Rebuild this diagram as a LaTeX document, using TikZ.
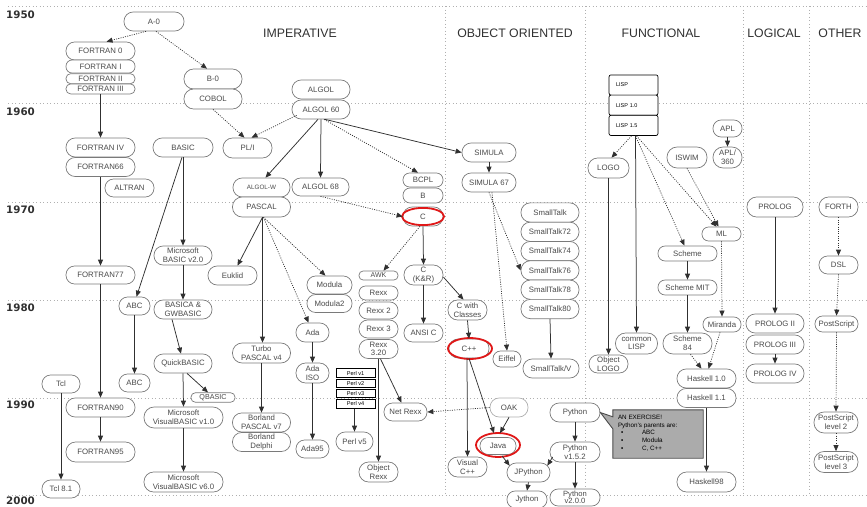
\documentclass[tikz,border=0pt]{standalone}
\usepackage{fontspec}
\setmainfont{Liberation Sans}
\newfontfamily\yearfont{DejaVu Sans}
\usetikzlibrary{arrows.meta}
\definecolor{nodeline}{HTML}{7A7A7A}
\definecolor{nodetext}{HTML}{4A4A4A}
\definecolor{edgecol}{HTML}{303030}
\definecolor{gridcol}{HTML}{B0B0B0}
\definecolor{ringred}{HTML}{E01818}
\definecolor{notefill}{HTML}{ABABAB}
\definecolor{headcol}{HTML}{303030}
\newcommand{\lnode}[7][]{\pgfmathsetmacro{\rr}{#6/2-0.4}\node[box,minimum width=#5,minimum height=#6,rounded corners=\rr pt,#1] (#2) at (#3,#4) {#7};}
\begin{document}
\begin{tikzpicture}[x=1pt,y=-1pt,
  box/.style={draw=nodeline,line width=0.7pt,fill=white,inner sep=0pt,align=center,text=nodetext,font=\fontsize{7.8}{8.6}\selectfont},
  lispbox/.style={draw=black,line width=0.7pt,fill=white,rounded corners=2pt,minimum width=49,minimum height=20.2,inner sep=0pt,text width=35,align=left,font=\fontsize{5.5}{6}\selectfont},
  perlbox/.style={draw=black,line width=0.8pt,fill=white,minimum width=39,minimum height=8.5,inner sep=0pt,font=\fontsize{5.6}{6}\selectfont},
  sol/.style={draw=edgecol,line width=0.75pt},
  dot/.style={draw=edgecol,line width=0.7pt,dash pattern=on 1pt off 1.3pt},
  arr/.style={-{Triangle[length=6pt,width=5pt]}},
  gridline/.style={draw=gridcol,line width=0.8pt,dash pattern=on 1pt off 2.5pt},
  head/.style={text=headcol,font=\fontsize{12.3}{14}\selectfont,inner sep=0pt},
  year/.style={text=headcol,font=\yearfont\bfseries\fontsize{10.3}{12}\selectfont,inner sep=0pt,anchor=west},
  ring/.style={draw=ringred,line width=1.8pt},
  notebox/.style={fill=notefill,draw=black!70,line width=0.9pt}]
\useasboundingbox (0,0) rectangle (867,506);
% grid
\foreach \yy in {6,103,202,300,398,495} \draw[gridline] (8,\yy) -- (867,\yy);
\foreach \xx in {445,585,743,809} \draw[gridline] (\xx,6) -- (\xx,495);
% years
\node[year] (y1950) at (6,15) {1950};
\node[year] (y1960) at (6,112) {1960};
\node[year] (y1970) at (6,210) {1970};
\node[year] (y1980) at (6,308) {1980};
\node[year] (y1990) at (6,405) {1990};
\node[year] (y2000) at (6,501) {2000};
% headings
\node[head] (hImp) at (300,33) {IMPERATIVE};
\node[head] (hOO) at (515,33) {OBJECT ORIENTED};
\node[head] (hFun) at (661,33) {FUNCTIONAL};
\node[head] (hLog) at (774,33) {LOGICAL};
\node[head] (hOth) at (840,33) {OTHER};
% imperative
\lnode{a0}{154}{21.5}{60}{19}{A-0}
\lnode{f0}{100.5}{51}{69}{18}{FORTRAN 0}
\lnode{f1}{100.5}{66.5}{69}{13}{FORTRAN I}
\lnode{f2}{100.5}{78.7}{69}{10}{FORTRAN II}
\lnode{f3}{100.5}{88.9}{69}{10}{FORTRAN III}
\lnode{b0}{213}{79}{58}{20}{B-0}
\lnode{cobol}{213}{99}{58}{20}{COBOL}
\lnode{f4}{100.5}{147.5}{69}{19}{FORTRAN IV}
\lnode{f66}{100.5}{167}{69}{19}{FORTRAN66}
\lnode{basic}{183}{147.5}{60}{19}{BASIC}
\lnode{pli}{247.5}{148}{49}{20}{PL/I}
\lnode{algol}{321}{89.5}{58}{19}{ALGOL}
\lnode{algol60}{321}{109.5}{58}{19}{ALGOL 60}
\lnode{altran}{129.5}{188}{49}{18}{ALTRAN}
\lnode[font=\fontsize{6.3}{7}\selectfont]{algolw}{261.5}{187.5}{57}{19}{ALGOL-W}
\lnode{pascal}{261.5}{207}{58}{20}{PASCAL}
\lnode{algol68}{320.5}{187}{57}{18}{ALGOL 68}
\lnode{msbasic}{183}{255.5}{58}{19}{Microsoft\\BASIC v2.0}
\lnode{f77}{100.5}{275}{69}{18}{FORTRAN77}
\lnode{euklid}{232.5}{275.5}{49}{19}{Euklid}
\lnode{abc1}{134.5}{306}{31}{18}{ABC}
\lnode{basica}{183}{309.5}{58}{19}{BASICA \&\\GWBASIC}
\lnode{modula}{329.5}{285}{45}{18}{Modula}
\lnode{modula2}{329.5}{303.5}{45}{18}{Modula2}
\lnode{ada}{312.5}{332.5}{33}{19}{Ada}
\lnode{quickbasic}{183}{363.5}{58}{19}{QuickBASIC}
\lnode{turbo}{261.5}{353}{58}{20}{Turbo\\PASCAL v4}
\lnode{tcl}{61}{384}{38}{18}{Tcl}
\lnode{abc2}{134.5}{383}{31}{18}{ABC}
\lnode[font=\fontsize{7.2}{8}\selectfont]{qbasic}{213}{397.5}{44}{9.5}{QBASIC}
\lnode{f90}{100.5}{407.5}{69}{19}{FORTRAN90}
\lnode{vb1}{183.5}{417.5}{79}{21}{Microsoft\\VisualBASIC v1.0}
\lnode{borland7}{261.5}{422.5}{58}{19}{Borland\\PASCAL v7}
\lnode{delphi}{261.5}{442}{58}{19}{Borland\\Delphi}
\lnode{f95}{100.5}{452}{69}{20}{FORTRAN95}
\lnode{vb6}{183.5}{482}{79}{20}{Microsoft\\VisualBASIC v6.0}
\lnode{tcl81}{61}{489}{38}{18}{Tcl 8.1}
\lnode{adaiso}{312.5}{373}{33}{20}{Ada\\ISO}
\lnode{ada95}{312.5}{449}{33}{18}{Ada95}
\node[perlbox] (perl1) at (355.5,373) {Perl v1};
\node[perlbox] (perl2) at (355.5,383.3) {Perl v2};
\node[perlbox] (perl3) at (355.5,393.6) {Perl v3};
\node[perlbox] (perl4) at (355.5,403.9) {Perl v4};
\lnode{perl5}{354.5}{441.5}{37}{19}{Perl v5}
\lnode{bcpl}{423}{180}{40}{14}{BCPL}
\lnode{bnode}{423}{195.5}{40}{15}{B}
\lnode{cnode}{423}{216.5}{40}{19}{C}
\lnode[font=\fontsize{7}{8}\selectfont]{awk}{378.5}{275.5}{39}{9}{AWK}
\lnode{rexx}{378.5}{293}{39}{14}{Rexx}
\lnode{rexx2}{378.5}{310.5}{39}{17}{Rexx 2}
\lnode{rexx3}{378.5}{329}{39}{18}{Rexx 3}
\lnode{rexx320}{378.5}{349}{39}{19}{Rexx\\3.20}
\lnode{ckr}{423.5}{275}{39}{20}{C\\(K\&R)}
\lnode{ansic}{423.5}{333}{39}{18}{ANSI C}
\lnode{netrexx}{405.5}{412}{43}{18}{Net Rexx}
\lnode{objrexx}{378.5}{472}{39}{20}{Object\\Rexx}
% object oriented
\lnode{simula}{489}{152.5}{54}{19}{SIMULA}
\lnode{simula67}{489}{182.5}{54}{19}{SIMULA 67}
\lnode{cwc}{467.5}{310}{39}{20}{C with\\Classes}
\lnode{st}{550}{212.5}{58}{19.3}{SmallTalk}
\lnode{st72}{550}{231.8}{58}{19.3}{SmallTalk72}
\lnode{st74}{550}{251.1}{58}{19.3}{SmallTalk74}
\lnode{st76}{550}{270.4}{58}{19.3}{SmallTalk76}
\lnode{st78}{550}{289.7}{58}{19.3}{SmallTalk78}
\lnode{st80}{550}{309}{58}{19.3}{SmallTalk80}
\lnode{cpp}{469}{348.5}{40}{19}{C++}
\lnode{eiffel}{507}{359}{28}{16}{Eiffel}
\lnode{stv}{551}{368.5}{56}{19}{SmallTalk/V}
\lnode[draw=nodeline!60]{oak}{509}{407.5}{38}{19}{OAK}
\lnode{python}{575}{412.5}{50}{19}{Python}
\lnode{java}{498}{446}{36}{17}{Java}
\lnode{py152}{575}{452}{50}{20}{Python\\v1.5.2}
\lnode{vcpp}{467.5}{467}{39}{20}{Visual\\C++}
\lnode{jpython}{528.5}{472.5}{43}{19}{JPython}
\lnode{jython}{527}{499.5}{40}{17}{Jython}
\lnode[font=\fontsize{7.6}{7.4}\selectfont]{py200}{575}{497.5}{50}{17}{Python\\v2.0.0}
% functional
\node[lispbox] (lisp) at (633.5,85) {LISP};
\node[lispbox] (lisp10) at (633.5,105.2) {LISP 1.0};
\node[lispbox] (lisp15) at (633.5,125.4) {LISP 1.5};
\lnode{apl}{727.5}{128.5}{29}{17}{APL}
\lnode{apl360}{727.5}{157.5}{29}{21}{APL/\\360}
\lnode{iswim}{687}{157.5}{40}{21}{ISWIM}
\lnode{logo}{608.5}{168}{41}{20}{LOGO}
\lnode{ml}{721.5}{234}{39}{14}{ML}
\lnode{scheme}{687.5}{253.5}{59}{15}{Scheme}
\lnode{schememit}{687.5}{287.5}{59}{15}{Scheme MIT}
\lnode{miranda}{722}{324.5}{38}{15}{Miranda}
\lnode{commonlisp}{636.5}{343.5}{42}{21}{common\\LISP}
\lnode{scheme84}{687.5}{343.5}{49}{21}{Scheme\\84}
\lnode{objlogo}{608.5}{364}{39}{18}{Object\\LOGO}
\lnode{hask10}{706.5}{378.5}{59}{19}{Haskell 1.0}
\lnode{hask11}{706.5}{398}{59}{19}{Haskell 1.1}
\lnode{hask98}{706.5}{482}{59}{20}{Haskell98}
% logical
\lnode{prolog}{775}{207}{56}{20}{PROLOG}
\lnode{prolog2}{775}{323.5}{58}{19}{PROLOG II}
\lnode{prolog3}{775}{344.5}{58}{19}{PROLOG III}
\lnode{prolog4}{775}{373.5}{58}{19}{PROLOG IV}
% other
\lnode{forth}{838.5}{207}{39}{20}{FORTH}
\lnode{dsl}{838.5}{265}{39}{18}{DSL}
\lnode{postscript}{836.5}{324}{43}{16}{PostScript}
\lnode{ps2}{836}{422.5}{44}{21}{PostScript\\level 2}
\lnode{ps3}{836}{462}{44}{21}{PostScript\\level 3}
% red rings
\draw[ring] (cnode.center) ellipse [x radius=21, y radius=8.6];
\draw[ring] ([xshift=1]cpp.center) ellipse [x radius=22, y radius=10.5];
\draw[ring] ([yshift=1]java.center) ellipse [x radius=22, y radius=12];
% callout
\node[minimum width=90,minimum height=48,inner sep=0pt] (note) at (658,434) {};
\path[notebox] (note.north west) -- (note.north east) -- (note.south east) -- (note.south west) -- ([yshift=-19]note.north west) -- (python.east) -- ([yshift=-7]note.north west) -- cycle;
\node[font=\fontsize{6.3}{7.7}\selectfont,align=left,anchor=north west,inner sep=0pt] (notetxt) at ([xshift=5,yshift=-5]note.north west) {AN EXERCISE!\\Python's parents are:\\\hspace*{3pt}\makebox[21pt][l]{▪}ABC\\\hspace*{3pt}\makebox[21pt][l]{▪}Modula\\\hspace*{3pt}\makebox[21pt][l]{▪}C, C++};
% edges
\draw[dot,arr] ([xshift=-8]a0.south) -- ([xshift=6]f0.north);
\draw[dot,arr] ([xshift=2]a0.south) -- ([xshift=-6]b0.north);
\draw[sol,arr] (f3.south) -- (f4.north);
\draw[dot,arr] (cobol.south) -- ([xshift=-3]pli.north);
\draw[dot,arr] ([xshift=5,yshift=4]algol60.south west) -- ([xshift=4]pli.north);
\draw[sol,arr] ([xshift=-3]algol60.south) -- ([xshift=4]algolw.north);
\draw[sol,arr] (algol60.south) -- (algol68.north);
\draw[dot,arr] ([xshift=3]algol60.south) -- ([xshift=-5]bcpl.north);
\draw[sol,arr] ([xshift=4]algol60.south) -- (simula.west);
\draw[sol,arr] (simula.south) -- (simula67.north);
\draw[sol,arr] (f66.south) -- (f77.north);
\draw[sol,arr] (basic.south) -- (msbasic.north);
\draw[sol,arr] ([xshift=-1]basic.south) -- ([xshift=2]abc1.north);
\draw[sol,arr] ([xshift=1]pascal.south) -- ([xshift=5]euklid.north);
\draw[sol,arr] ([xshift=1]pascal.south) -- ([xshift=1]turbo.north);
\draw[dot,arr] ([xshift=2]pascal.south) -- ([xshift=-4]modula.north);
\draw[dot,arr] ([xshift=2]pascal.south) -- ([xshift=-4]ada.north);
\draw[dot,arr] (algol68.south) -- (cnode.west);
\draw[dot,arr] ([xshift=-3]cnode.south) -- ([xshift=5]awk.north);
\draw[sol,arr] (cnode.south) -- (ckr.north);
\draw[sol,arr] (ckr.south) -- (ansic.north);
\draw[sol,arr] ([yshift=-2]ckr.east) -- ([xshift=-4]cwc.north);
\draw[sol,arr] (cwc.south) -- (cpp.north);
\draw[dot,arr] (simula67.south) -- (st76.west);
\draw[dot,arr] ([xshift=3]simula67.south) -- (eiffel.north);
\draw[sol,arr] (st80.south) -- (stv.north);
\draw[sol,arr] (msbasic.south) -- (basica.north);
\draw[sol,arr] ([xshift=-11]basica.south) -- ([xshift=-2]quickbasic.north);
\draw[sol,arr] ([xshift=4]quickbasic.south) -- ([xshift=-5]qbasic.north);
\draw[sol,arr] (quickbasic.south) -- (vb1.north);
\draw[sol,arr] (vb1.south) -- (vb6.north);
\draw[sol,arr] (f77.south) -- (f90.north);
\draw[sol,arr] (f90.south) -- (f95.north);
\draw[sol,arr] (abc1.south) -- (abc2.north);
\draw[sol,arr] (tcl.south) -- (tcl81.north);
\draw[sol,arr] (turbo.south) -- (borland7.north);
\draw[sol,arr] (ada.south) -- (adaiso.north);
\draw[sol,arr] (adaiso.south) -- (ada95.north);
\draw[sol,arr] ([xshift=-1]perl4.south) -- (perl5.north);
\draw[sol,arr] ([xshift=2]rexx320.south) -- ([xshift=-4]netrexx.north);
\draw[sol,arr] (rexx320.south) -- (objrexx.north);
\draw[dot,arr] (oak.west) -- (netrexx.east);
\draw[sol,arr] (cpp.south) -- ([xshift=-4,yshift=4]java.north);
\draw[sol,arr] (oak.south) -- ([xshift=2,yshift=4]java.north);
\draw[sol,arr] ([xshift=-2]cpp.south) -- (vcpp.north);
\draw[sol,arr] ([xshift=4,yshift=-1]java.south) -- ([xshift=3,yshift=-3]jpython.north west);
\draw[sol,arr] ([xshift=3,yshift=-5]py152.west) -- ([xshift=-3,yshift=-3]jpython.north east);
\draw[sol,arr] (jpython.south) -- (jython.north);
\draw[sol,arr] (python.south) -- (py152.north);
\draw[sol,arr] (py152.south) -- (py200.north);
\draw[dot,arr] ([xshift=-2]lisp15.south) -- ([xshift=3]logo.north);
\draw[sol,arr] ([xshift=2]lisp15.south) -- (commonlisp.north);
\draw[dot,arr] ([xshift=2]lisp15.south) -- ([xshift=-3]scheme.north);
\draw[dot,arr] ([xshift=3]lisp15.south) -- ([xshift=-5]ml.north);
\draw[dot,arr] (iswim.south) -- ([xshift=-3]ml.north);
\draw[sol,arr] (apl.south) -- (apl360.north);
\draw[sol,arr] (logo.south) -- (objlogo.north);
\draw[dot,arr] (ml.south) -- (miranda.north);
\draw[sol,arr] (scheme.south) -- (schememit.north);
\draw[sol,arr] (schememit.south) -- (scheme84.north);
\draw[dot,arr] ([xshift=3]scheme84.south) -- ([xshift=-5]hask10.north);
\draw[dot,arr] ([xshift=-2]miranda.south) -- ([xshift=2]hask10.north);
\draw[sol,arr] (hask11.south) -- (hask98.north);
\draw[sol,arr] (prolog.south) -- (prolog2.north);
\draw[sol,arr] (prolog3.south) -- (prolog4.north);
\draw[dot,arr] (forth.south) -- (dsl.north);
\draw[dot,arr] (dsl.south) -- (postscript.north);
\draw[dot,arr] (postscript.south) -- (ps2.north);
\draw[dot,arr] (ps2.south) -- (ps3.north);
\end{tikzpicture}
\end{document}
